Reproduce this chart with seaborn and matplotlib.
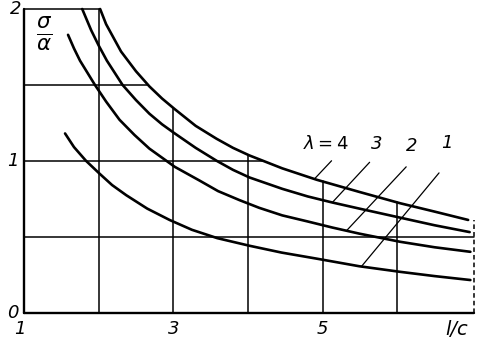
import numpy as np
import pandas as pd
import matplotlib as mpl
mpl.use('Agg')
import matplotlib.pyplot as plt
import seaborn as sns

# curves sigma/alpha vs l/c
c4_x = [2.02, 2.1, 2.3, 2.5, 2.68, 2.85, 3.02, 3.3, 3.58, 3.8, 4.02, 4.46, 4.92, 5.49, 6.04, 6.5, 6.95]
c4_y = [2.00, 1.90, 1.72, 1.59, 1.49, 1.41, 1.34, 1.23, 1.145, 1.085, 1.035, 0.95, 0.875, 0.795, 0.72, 0.665, 0.61]

c3_x = [1.78, 1.9, 2.0, 2.11, 2.32, 2.5, 2.68, 2.85, 3.02, 3.3, 3.58, 3.8, 4.02, 4.46, 4.8, 5.13, 5.49, 6.04, 6.5, 6.97]
c3_y = [2.00, 1.86, 1.76, 1.66, 1.50, 1.40, 1.31, 1.24, 1.18, 1.085, 1.00, 0.94, 0.89, 0.815, 0.765, 0.725, 0.685, 0.625, 0.575, 0.53]

c2_x = [1.59, 1.67, 1.75, 1.85, 1.95, 2.1, 2.28, 2.48, 2.68, 2.85, 3.02, 3.35, 3.6, 3.89, 4.15, 4.46, 4.8, 5.13, 5.49, 6.04, 6.5, 6.98]
c2_y = [1.83, 1.74, 1.66, 1.58, 1.50, 1.39, 1.27, 1.17, 1.08, 1.02, 0.96, 0.87, 0.80, 0.74, 0.69, 0.64, 0.60, 0.56, 0.52, 0.466, 0.43, 0.40]

c1_x = [1.55, 1.67, 1.83, 2.01, 2.18, 2.37, 2.65, 2.95, 3.25, 3.59, 4.02, 4.45, 4.92, 5.49, 6.04, 6.5, 6.98]
c1_y = [1.18, 1.09, 1.00, 0.916, 0.84, 0.773, 0.685, 0.61, 0.545, 0.49, 0.44, 0.395, 0.355, 0.305, 0.268, 0.24, 0.214]

lams = [4, 3, 2, 1]
curves_x = [c4_x, c3_x, c2_x, c1_x]
curves_y = [c4_y, c3_y, c2_y, c1_y]

grid_x = [2, 3, 4, 5, 6]
grid_y = [0.5, 1.0, 1.5, 2.0]
xtick_vals = [1, 3, 5]
ytick_vals = [0, 1, 2]

# label text, label anchor, and where its leader touches the curve (x)
ann_text = [r'$\lambda = 4$', '3', '2', '1']
ann_pos = [(5.05, 1.05), (5.73, 1.05), (6.2, 1.04), (6.67, 1.06)]
ann_from = [(5.12, 1.0), (5.63, 0.99), (6.12, 0.96), (6.56, 0.92)]
ann_to_x = [4.89, 5.13, 5.32, 5.52]

rows = []
for lam, xs, ys in zip(lams, curves_x, curves_y):
    for a, b in zip(xs, ys):
        rows.append({'lc': a, 'ratio': b, 'lam': str(lam)})
df = pd.DataFrame(rows)

sns.set_style('white')
plt.rcParams['font.family'] = ['DejaVu Sans']
plt.rcParams['mathtext.fontset'] = 'dejavusans'
plt.rcParams['text.color'] = 'black'

fig = plt.figure(figsize=(4.78, 3.47), dpi=100)
ax = fig.add_axes([0.0502, 0.0994, 0.937, 0.8746])
ax.set_xlim(1, 7)
ax.set_ylim(0, 2)
ax.set_axis_off()

xmax = 7.03

# grid clipped by the top curve
for gx in grid_x:
    top = min(2.0, np.interp(gx, c4_x, c4_y))
    ax.plot([gx, gx], [0, top], color='black', lw=1.1, clip_on=False)
for gy in grid_y:
    if gy < min(c4_y):
        xe = xmax
    else:
        xe = np.interp(gy, c4_y[::-1], c4_x[::-1])
    ax.plot([1, xe], [gy, gy], color='black', lw=1.1, clip_on=False)

# frame
ax.plot([1, 1], [0, 2], color='black', lw=1.7, clip_on=False)
ax.plot([1, xmax], [0, 0], color='black', lw=1.7, clip_on=False)
ax.plot([xmax, xmax], [0, 0.61], color='black', lw=1.1, ls=(0, (3, 2)), clip_on=False)

sns.lineplot(data=df, x='lc', y='ratio', hue='lam', palette=['black'] * 4,
             estimator=None, sort=False, lw=1.9, legend=False, ax=ax)
for ln in ax.get_lines():
    ln.set_clip_on(False)

# leaders and labels
for txt, pos, p0, tx, xs, ys in zip(ann_text, ann_pos, ann_from, ann_to_x, curves_x, curves_y):
    ty = np.interp(tx, xs, ys)
    ax.plot([p0[0], tx], [p0[1], ty], color='black', lw=0.9, clip_on=False)
    ax.text(pos[0], pos[1], txt, fontsize=13, style='italic', ha='center', va='bottom',
            color='black')

tfont = dict(fontsize=13, style='italic', color='black')
ytick_x = [0.93, 0.93, 0.96]
for v, tx in zip(ytick_vals, ytick_x):
    ax.text(tx, v, str(v), ha='right', va='center', **tfont)
for v in xtick_vals:
    ax.text(v - 0.06 if v == 1 else v, -0.05, str(v), ha='center', va='top', **tfont)
ax.text(6.8, -0.05, 'l/c', ha='center', va='top', fontsize=14, style='italic', color='black')

ax.text(1.27, 1.84, r'$\frac{\sigma}{\alpha}$', fontsize=22, ha='center', va='center',
        color='black')

fig.savefig('out.png', dpi=100)
